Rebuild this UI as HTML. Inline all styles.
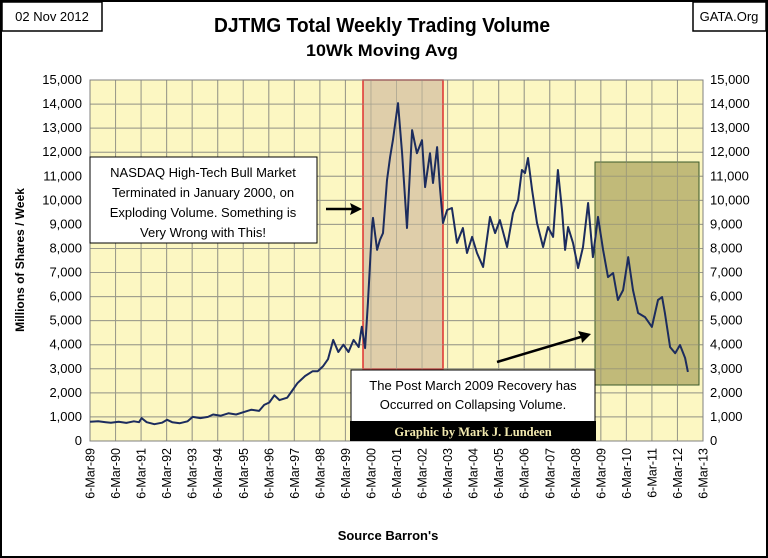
<!DOCTYPE html>
<html><head><meta charset="utf-8"><style>
body{margin:0;background:#fff;}
svg{display:block;font-family:"Liberation Sans",sans-serif;}
</style></head><body>
<svg id="chart" width="768" height="558" viewBox="0 0 768 558">
<rect x="1" y="1" width="766" height="556" fill="#fff" stroke="#000" stroke-width="2"/>
<rect x="2" y="2" width="100" height="29" fill="#fff" stroke="#000" stroke-width="1.5"/>
<text x="52" y="21" font-size="13" text-anchor="middle">02 Nov 2012</text>
<rect x="693" y="2" width="73" height="29" fill="#fff" stroke="#000" stroke-width="1.5"/>
<text x="729" y="21" font-size="13" text-anchor="middle">GATA.Org</text>
<text x="214" y="32" font-size="20" font-weight="bold" textLength="336" lengthAdjust="spacingAndGlyphs">DJTMG Total Weekly Trading  Volume</text>
<text x="306" y="56" font-size="17" font-weight="bold" textLength="152" lengthAdjust="spacingAndGlyphs">10Wk Moving Avg</text>
<rect x="90" y="80" width="613" height="361" fill="#fcf7c2"/>
<g id="grid"></g>
<rect x="363" y="80" width="80" height="289" fill="#d9c7a6" fill-opacity="0.85" stroke="#e03030" stroke-width="1.5"/>
<rect x="595" y="162" width="104" height="223" fill="#aea660" fill-opacity="0.75" stroke="#3a5a2a" stroke-width="1"/>
<g id="gridover"></g>
<g id="axes"></g>
<path id="series" fill="none" stroke="#1c2c5e" stroke-width="2" stroke-linejoin="round"/>
<text transform="translate(24,260) rotate(-90)" font-size="12" font-weight="bold" text-anchor="middle">Millions of Shares / Week</text>
<text x="388" y="540" font-size="13" font-weight="bold" text-anchor="middle">Source Barron's</text>
<rect x="90" y="157" width="227" height="86" fill="#fff" stroke="#000" stroke-width="1"/>
<g font-size="13" text-anchor="middle">
<text x="203" y="177">NASDAQ High-Tech Bull Market</text>
<text x="203" y="197">Terminated in January 2000, on</text>
<text x="203" y="217">Exploding Volume.  Something is</text>
<text x="203" y="237">Very Wrong with This!</text>
</g>
<line x1="326" y1="209" x2="358" y2="209" stroke="#000" stroke-width="2.5"/>
<polygon points="362,209 350,203 352,209 350,215" fill="#000"/>
<line x1="497" y1="362" x2="584" y2="336" stroke="#000" stroke-width="2.5"/>
<polygon points="591,334 578,331 581,337 582,343" fill="#000"/>
<rect x="351" y="370" width="244" height="52" fill="#fff" stroke="#000" stroke-width="1"/>
<text x="473" y="390" font-size="13" text-anchor="middle">The Post March 2009 Recovery has</text>
<text x="473" y="409" font-size="13" text-anchor="middle">Occurred on Collapsing Volume.</text>
<rect x="350" y="421" width="246" height="20" fill="#000"/>
<text x="473" y="436" font-size="12.5" font-weight="bold" fill="#f3eab0" text-anchor="middle" font-family="Liberation Serif,serif">Graphic by Mark J. Lundeen</text>
</svg>
<script>
const yTicks=[0,1000,2000,3000,4000,5000,6000,7000,8000,9000,10000,11000,12000,13000,14000,15000];
const xTickYears=[1989,1990,1991,1992,1993,1994,1995,1996,1997,1998,1999,2000,2001,2002,2003,2004,2005,2006,2007,2008,2009,2010,2011,2012,2013];
const dates=[1989.18,1989.5,1989.8,1990.0,1990.3,1990.6,1990.9,1991.1,1991.2,1991.4,1991.7,1992.0,1992.2,1992.4,1992.7,1993.0,1993.2,1993.5,1993.8,1994.0,1994.3,1994.6,1994.9,1995.2,1995.5,1995.8,1996.0,1996.2,1996.4,1996.6,1996.9,1997.1,1997.3,1997.6,1997.9,1998.1,1998.3,1998.5,1998.7,1998.9,1999.1,1999.3,1999.5,1999.7,
1999.82,1999.95,2000.06,2000.22,2000.26,2000.42,2000.53,2000.65,2000.81,2000.93,2001.04,2001.24,2001.40,2001.59,2001.79,2001.98,2002.18,2002.30,2002.49,2002.61,2002.77,2002.88,2003.00,2003.16,2003.35,2003.55,2003.78,2003.94,2004.14,2004.33,2004.57,2004.84,2005.04,2005.23,2005.51,2005.74,2005.94,2006.09,2006.21,2006.33,2006.49,2006.68,2006.92,2007.11,2007.31,2007.50,2007.66,2007.78,2007.90,2008.09,2008.29,2008.48,2008.68,2008.87,2009.07,2009.27,2009.46,2009.66,2009.85,2010.05,2010.25,2010.44,2010.64,2010.91,2011.18,2011.42,2011.58,2011.69,2011.89,2012.09,2012.28,2012.48,2012.59];
const volumes=[800,820,780,760,800,750,820,780,950,780,700,760,880,780,740,820,1000,950,1000,1100,1050,1150,1100,1200,1300,1250,1500,1600,1900,1700,1800,2100,2400,2700,2900,2900,3100,3400,4200,3700,4000,3700,4200,3900,
4750,3860,5730,8890,9270,7940,8350,8640,10840,11800,12500,14040,11960,8850,12920,11960,12500,10550,11960,10720,12210,10550,9060,9600,9680,8230,8850,7810,8480,7810,7230,9310,8640,9180,8060,9470,10010,11260,11130,11760,10430,9060,8060,8890,8480,11260,9600,7940,8890,8230,7190,8060,9890,7640,9310,7940,6810,6980,5860,6270,7640,6270,5320,5150,4740,5860,5980,5320,3900,3650,3990,3450,2870];
const NS='http://www.w3.org/2000/svg';
const X0=90,X1=703,Y0=441,Y1=80;
function xs(yr){return X0+(yr-1989.18)/(2013.18-1989.18)*(X1-X0);}
function ys(v){return Y0-v/15000*(Y0-Y1);}
function mk(tag,attrs,parent){const e=document.createElementNS(NS,tag);for(const k in attrs)e.setAttribute(k,attrs[k]);parent.appendChild(e);return e;}
const grid=document.getElementById('grid'),gridover=document.getElementById('gridover'),axes=document.getElementById('axes');
yTicks.forEach(v=>{
  [grid,gridover].forEach(g=>{const l=mk('line',{x1:X0,x2:X1,y1:ys(v),y2:ys(v),stroke:'#9a9a8a','stroke-width':1,'stroke-opacity':g===gridover?0.5:1},g);
  
  });
  const lt=mk('text',{x:82,y:ys(v)+4,'font-size':13,'text-anchor':'end'},axes);lt.textContent=v.toLocaleString('en-US');
  
  
  const rt=mk('text',{x:710,y:ys(v)+4,'font-size':13},axes);rt.textContent=v.toLocaleString('en-US');
  
  
});
xTickYears.forEach(y=>{
  const x=xs(y+0.18);
  [grid,gridover].forEach(g=>{const l=mk('line',{x1:x,x2:x,y1:Y1,y2:Y0,stroke:'#9a9a8a','stroke-width':1,'stroke-opacity':g===gridover?0.5:1},g);
  
  });
  const t=mk('text',{transform:`translate(${x+4.5},${448}) rotate(-90)`,'font-size':12.5,'text-anchor':'end'},axes);
  t.textContent='6-Mar-'+String(y%100).padStart(2,'0');
  
  
});
const ax=mk('rect',{x:X0,y:Y1,width:X1-X0,height:Y0-Y1,fill:'none',stroke:'#808080','stroke-width':1},axes);


let d='';dates.forEach((t,i)=>{d+=(i?'L':'M')+xs(t).toFixed(1)+','+ys(volumes[i]).toFixed(1);});
document.getElementById('series').setAttribute('d',d);
</script>
</body></html>
